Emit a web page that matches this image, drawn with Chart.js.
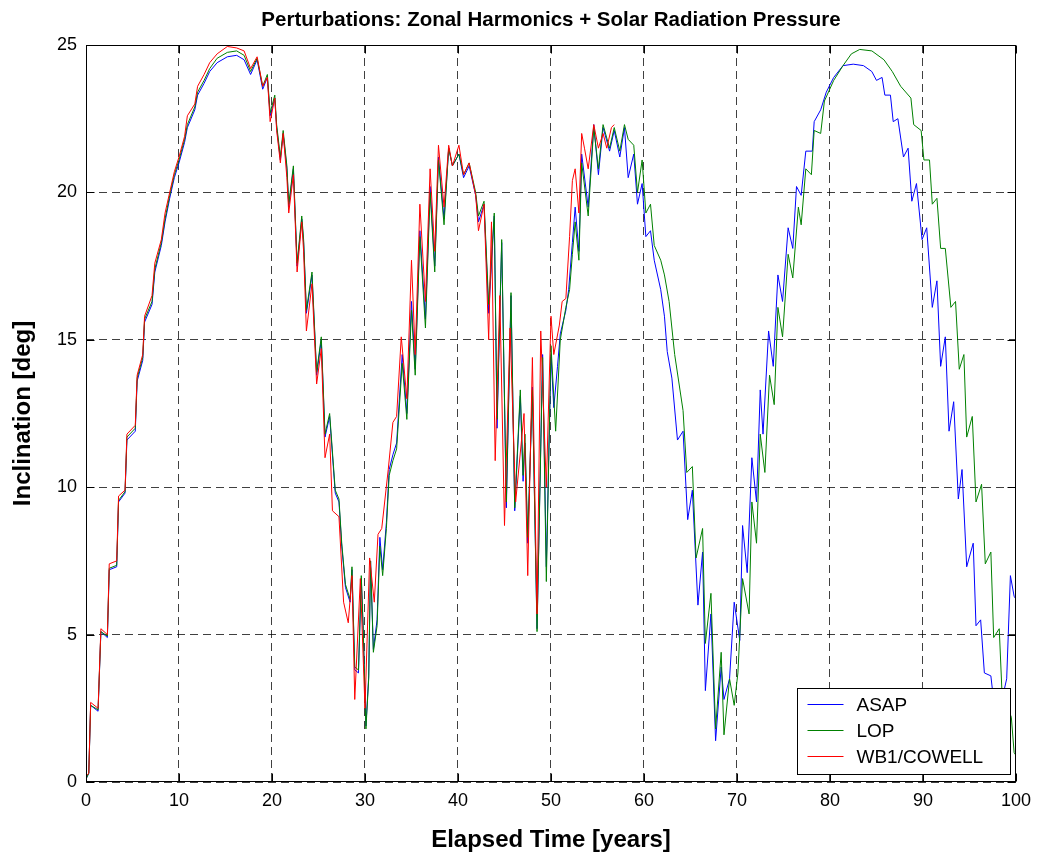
<!DOCTYPE html>
<html>
<head>
<meta charset="utf-8">
<title>Inclination perturbations</title>
<script src="https://cdn.jsdelivr.net/npm/chart.js@4.4.1/dist/chart.umd.min.js"></script>
<style>
  html, body { margin: 0; padding: 0; background: #fff; }
  #wrap { width: 1039px; height: 853px; }
</style>
</head>
<body>
<div id="wrap"><canvas id="chart" width="1039" height="853"></canvas></div>
<script>
// values: elapsed time [years] / inclination [deg]
const asapT = [0, 0.3, 0.5, 1.3, 1.6, 2.3, 2.5, 3.3, 3.5, 4.2, 4.4, 5.3, 5.5, 6.1, 6.3, 7.1, 7.4, 8.1, 8.5, 9.0,
  9.5, 10.0, 10.6, 10.9, 11.7, 12.0, 12.7, 13.3, 14.1, 15.2, 16.2, 17.0, 17.7, 18.4, 19.0, 19.5, 19.8, 20.3, 20.5, 20.9,
  21.2, 21.6, 21.8, 22.3, 22.7, 23.2, 23.4, 23.7, 24.3, 24.8, 25.3, 25.7, 26.2, 26.8, 27.2, 27.5, 27.9, 28.4, 28.6, 28.9,
  29.3, 29.6, 29.8, 30.1, 30.4, 30.6, 30.9, 31.3, 31.6, 31.9, 32.3, 32.6, 33.0, 33.4, 34.0, 34.5, 35.0, 35.4, 35.9, 36.5,
  37.0, 37.5, 37.9, 38.5, 39.0, 39.4, 40.1, 40.6, 41.2, 41.9, 42.2, 42.8, 43.3, 43.9, 44.2, 44.7, 45.2, 45.7, 46.1, 46.7,
  47.0, 47.2, 47.5, 48.0, 48.5, 49.1, 49.5, 50.0, 50.3, 50.7, 51.0, 51.6, 51.9, 52.3, 52.6, 53.0, 53.3, 54.0, 54.6, 55.1,
  55.6, 56.3, 56.8, 57.4, 57.9, 58.3, 58.9, 59.3, 59.8, 60.2, 60.7, 61.1, 61.8, 62.2, 62.5, 63.0, 63.6, 64.2, 64.7, 65.2,
  65.8, 66.3, 66.6, 67.2, 67.7, 68.3, 68.6, 69.2, 69.7, 70.3, 70.6, 71.1, 71.6, 72.1, 72.5, 72.8, 73.4, 73.9, 74.4, 74.9,
  75.5, 76.0, 76.4, 76.9, 77.4, 78.1, 78.3, 79.0, 79.6, 80.4, 81.4, 82.5, 83.6, 84.5, 85.0, 85.6, 85.9, 86.5, 86.8, 87.3,
  87.9, 88.4, 88.8, 89.3, 89.9, 90.4, 91.0, 91.5, 91.9, 92.4, 92.8, 93.3, 93.8, 94.2, 94.7, 95.4, 95.7, 96.2, 96.6, 97.3,
  97.8, 98.5, 99.0, 99.4, 99.8, 100];
const asapI = [0.1, 0.3, 2.6, 2.4, 5.1, 4.9, 7.2, 7.3, 9.5, 9.8, 11.6, 11.9, 13.6, 14.3, 15.6, 16.2, 17.3, 18.2, 19.0, 19.8,
  20.5, 21.0, 21.7, 22.2, 22.8, 23.3, 23.7, 24.1, 24.4, 24.6, 24.65, 24.5, 24.0, 24.5, 23.5, 23.9, 22.6, 23.2, 22.2, 21.1,
  22.0, 20.8, 19.5, 20.8, 17.5, 19.1, 18.3, 15.9, 17.2, 13.8, 15.0, 11.7, 12.4, 9.8, 9.5, 8.0, 6.6, 6.1, 7.2, 3.8,
  3.7, 6.9, 5.2, 1.9, 3.6, 7.5, 4.5, 5.5, 8.3, 7.2, 8.8, 10.6, 11.1, 11.5, 14.5, 12.5, 16.3, 14.0, 18.7, 15.7,
  20.2, 17.5, 21.2, 19.1, 21.5, 20.9, 21.3, 20.5, 20.9, 19.9, 19.0, 19.6, 15.9, 19.2, 12.0, 18.3, 9.3, 16.5, 9.2, 13.1,
  10.2, 11.5, 8.1, 13.4, 5.2, 14.5, 7.3, 14.5, 12.7, 14.1, 15.2, 16.0, 16.7, 18.3, 19.5, 18.0, 21.3, 19.5, 22.3, 20.6,
  22.2, 21.4, 22.1, 21.2, 22.2, 20.5, 21.3, 19.6, 20.3, 18.5, 18.7, 17.7, 16.7, 15.8, 14.6, 13.7, 11.6, 11.9, 8.9, 9.9,
  6.0, 7.8, 3.1, 5.7, 1.4, 3.9, 2.8, 3.5, 6.1, 4.8, 8.7, 7.1, 11.0, 9.5, 13.3, 11.8, 15.3, 14.1, 17.2, 16.3,
  18.8, 18.1, 20.2, 19.9, 21.4, 21.4, 22.4, 22.8, 23.4, 23.9, 24.3, 24.35, 24.3, 24.1, 23.8, 23.9, 23.3, 23.3, 22.4, 22.5,
  21.2, 21.5, 19.7, 20.3, 18.4, 18.8, 16.1, 17.0, 14.1, 15.1, 11.9, 12.9, 9.6, 10.6, 7.3, 8.1, 5.3, 5.5, 3.7, 3.6,
  2.2, 2.8, 3.5, 7.0, 6.3, 6.2];

const lopT = [0, 0.3, 0.5, 1.3, 1.6, 2.3, 2.5, 3.3, 3.5, 4.2, 4.4, 5.3, 5.5, 6.1, 6.3, 7.1, 7.4, 8.1, 8.5, 9.0,
  9.5, 10.0, 10.6, 10.9, 11.7, 12.0, 12.7, 13.3, 14.1, 15.2, 16.2, 17.0, 17.7, 18.4, 19.0, 19.5, 19.8, 20.3, 20.5, 20.9,
  21.2, 21.6, 21.8, 22.3, 22.7, 23.2, 23.4, 23.7, 24.3, 24.8, 25.3, 25.7, 26.2, 26.8, 27.2, 27.5, 27.9, 28.4, 28.6, 28.9,
  29.3, 29.6, 29.8, 30.1, 30.4, 30.6, 30.9, 31.3, 31.6, 31.9, 32.3, 32.6, 33.0, 33.4, 34.0, 34.5, 35.0, 35.4, 35.9, 36.5,
  37.0, 37.5, 37.9, 38.5, 39.0, 39.4, 40.1, 40.6, 41.2, 41.9, 42.2, 42.8, 43.3, 43.9, 44.2, 44.7, 45.2, 45.7, 46.1, 46.7,
  47.0, 47.2, 47.5, 48.0, 48.5, 49.1, 49.5, 50.0, 50.5, 51.0, 51.6, 52.0, 52.3, 52.6, 53.0, 53.3, 54.0, 54.6, 55.1, 55.6,
  56.3, 56.8, 57.4, 57.9, 58.3, 58.9, 59.3, 59.8, 60.2, 60.7, 61.1, 61.8, 62.2, 62.7, 63.3, 64.2, 64.6, 65.2, 65.6, 66.3,
  66.6, 67.2, 67.7, 68.3, 68.6, 69.2, 69.7, 70.1, 70.6, 71.3, 71.6, 72.1, 72.5, 73.0, 73.5, 74.0, 74.4, 74.9, 75.5, 76.0,
  76.6, 76.9, 77.4, 78.0, 78.3, 79.0, 79.4, 80.4, 81.4, 82.3, 83.2, 84.5, 85.8, 86.7, 87.6, 88.7, 89.0, 89.8, 90.1, 90.7,
  91.0, 91.5, 91.9, 92.4, 93.0, 93.5, 93.9, 94.4, 94.7, 95.3, 95.7, 96.3, 96.7, 97.3, 97.6, 98.2, 98.5, 99.0, 99.5, 99.8,
  100];
const lopI = [0.1, 0.3, 2.6, 2.45, 5.1, 4.95, 7.25, 7.35, 9.55, 9.85, 11.7, 12.0, 13.7, 14.4, 15.7, 16.3, 17.4, 18.3, 19.1, 19.9,
  20.6, 21.1, 21.8, 22.3, 22.9, 23.4, 23.8, 24.2, 24.55, 24.75, 24.8, 24.65, 24.1, 24.55, 23.6, 24.0, 22.7, 23.3, 22.3, 21.2,
  22.1, 20.9, 19.6, 20.9, 17.6, 19.2, 18.4, 16.0, 17.3, 13.9, 15.1, 11.8, 12.5, 9.9, 9.6, 8.1, 6.7, 6.2, 7.3, 3.9,
  3.8, 7.0, 5.3, 1.8, 3.5, 7.5, 4.4, 5.3, 8.0, 7.0, 8.6, 10.4, 10.9, 11.3, 14.2, 12.3, 16.0, 13.8, 18.5, 15.4,
  20.0, 17.3, 21.1, 18.9, 21.5, 20.9, 21.3, 20.6, 21.0, 20.0, 19.2, 19.7, 16.2, 19.3, 12.3, 18.4, 9.5, 16.6, 9.3, 13.3,
  10.4, 11.8, 8.3, 13.3, 5.1, 14.4, 6.8, 14.8, 11.9, 15.0, 16.1, 16.7, 17.9, 19.0, 17.7, 21.0, 19.2, 22.2, 20.8, 22.3,
  21.5, 22.2, 21.4, 22.3, 21.8, 21.6, 20.0, 21.1, 19.3, 19.6, 18.2, 17.7, 17.2, 16.3, 14.5, 12.6, 10.5, 10.7, 7.6, 8.6,
  4.7, 6.4, 1.8, 4.4, 1.6, 3.5, 2.6, 3.7, 6.9, 5.7, 9.5, 8.1, 11.8, 10.5, 13.8, 12.8, 16.1, 15.1, 17.9, 17.1,
  19.5, 18.9, 20.8, 20.6, 22.1, 22.0, 23.1, 23.8, 24.3, 24.7, 24.85, 24.8, 24.5, 24.1, 23.6, 23.2, 22.3, 22.1, 21.1, 21.1,
  19.6, 19.8, 18.1, 18.1, 16.1, 16.3, 14.0, 14.5, 11.7, 12.4, 9.5, 10.1, 7.4, 7.8, 4.9, 5.2, 3.0, 2.6, 2.2, 1.0,
  0.9];

const wbT = [0, 0.3, 0.5, 1.3, 1.6, 2.3, 2.5, 3.3, 3.5, 4.2, 4.4, 5.3, 5.5, 6.1, 6.3, 7.1, 7.4, 8.1, 8.5, 9.0,
  9.5, 10.0, 10.6, 10.9, 11.7, 12.0, 12.7, 13.3, 14.1, 15.2, 16.2, 17.0, 17.7, 18.4, 19.0, 19.5, 19.8, 20.3, 20.5, 20.9,
  21.2, 21.6, 21.8, 22.3, 22.7, 23.2, 23.4, 23.7, 24.3, 24.8, 25.3, 25.7, 26.2, 26.5, 27.2, 27.7, 28.2, 28.6, 28.9, 29.5,
  30.0, 30.5, 31.0, 31.4, 31.8, 32.5, 33.0, 33.4, 33.9, 34.5, 35.0, 35.4, 35.9, 36.5, 37.0, 37.5, 37.9, 38.5, 39.0, 39.4,
  40.1, 40.6, 41.2, 41.9, 42.2, 42.8, 43.3, 43.6, 44.0, 44.5, 45.0, 45.6, 46.2, 47.1, 47.5, 48.0, 48.5, 48.9, 49.5, 50.0,
  50.3, 50.9, 51.2, 51.6, 52.0, 52.3, 52.6, 53.0, 53.3, 53.6, 54.0, 54.6, 55.1, 55.6, 56.0, 56.5, 56.8];
const wbI = [0.2, 0.3, 2.7, 2.5, 5.2, 5.0, 7.4, 7.5, 9.7, 9.9, 11.8, 12.1, 13.8, 14.5, 15.8, 16.5, 17.6, 18.4, 19.3, 20.0,
  20.7, 21.2, 21.9, 22.6, 23.0, 23.6, 24.0, 24.4, 24.7, 24.95, 24.9, 24.8, 24.2, 24.6, 23.6, 23.9, 22.4, 23.2, 22.1, 21.0,
  22.0, 20.5, 19.3, 20.6, 17.3, 19.0, 18.0, 15.3, 16.9, 13.5, 14.7, 11.0, 11.8, 9.2, 9.0, 6.1, 5.4, 7.0, 2.8, 6.9,
  2.5, 7.6, 6.1, 8.4, 8.6, 10.6, 12.2, 12.4, 15.1, 13.0, 17.7, 14.5, 19.6, 16.3, 20.8, 18.0, 21.6, 19.5, 21.6, 20.9,
  21.6, 20.6, 21.0, 19.9, 18.7, 19.6, 15.0, 19.0, 10.9, 16.5, 8.7, 15.4, 9.5, 12.5, 7.0, 14.4, 5.7, 15.3, 10.0, 15.8,
  14.5, 15.5, 16.3, 16.4, 18.5, 20.4, 20.8, 19.3, 22.0, 21.5, 20.8, 22.3, 21.5, 22.0, 21.5, 22.2, 22.3];

const seriesNames = ['ASAP', 'LOP', 'WB1/COWELL'];
const seriesColors = ['#0000ff', '#008000', '#ff0000'];
const xTicks = [0, 10, 20, 30, 40, 50, 60, 70, 80, 90, 100];
const yTicks = [0, 5, 10, 15, 20, 25];

const FONT = '"Liberation Sans", Arial, Helvetica, sans-serif';

function pts(t, v) {
  return t.map((x, i) => ({ x: x, y: v[i] }));
}

// box, inward ticks and the legend, drawn on top like matlab does it
const matlabAxes = {
  id: 'matlabAxes',
  afterDatasetsDraw(chart) {
    const { ctx, chartArea: a, scales } = chart;
    const L = Math.round(a.left) + 0.5, R = Math.round(a.right) - 0.5;
    const T = Math.round(a.top) + 0.5, B = Math.round(a.bottom) - 0.5;
    ctx.save();
    ctx.strokeStyle = '#000';
    ctx.lineWidth = 1;
    ctx.setLineDash([]);
    ctx.strokeRect(L, T, R - L, B - T);
    ctx.beginPath();
    xTicks.forEach(v => {
      const px = Math.round(scales.x.getPixelForValue(v)) + 0.5;
      ctx.moveTo(px, B); ctx.lineTo(px, B - 8);
      ctx.moveTo(px, T); ctx.lineTo(px, T + 8);
    });
    yTicks.forEach(v => {
      const py = Math.round(scales.y.getPixelForValue(v)) + 0.5;
      ctx.moveTo(L, py); ctx.lineTo(L + 8, py);
      ctx.moveTo(R, py); ctx.lineTo(R - 8, py);
    });
    ctx.stroke();
    ctx.restore();
  },
  afterDraw(chart) {
    const { ctx, chartArea: a } = chart;
    const w = 213, h = 86;
    const bx = Math.round(a.right) - 6 - w + 0.5;
    const by = Math.round(a.bottom) - 8 - h + 0.5;
    ctx.save();
    ctx.fillStyle = '#fff';
    ctx.fillRect(bx, by, w, h);
    ctx.strokeStyle = '#000';
    ctx.lineWidth = 1;
    ctx.strokeRect(bx, by, w, h);
    ctx.font = '19px ' + FONT;
    ctx.textBaseline = 'middle';
    ctx.fillStyle = '#000';
    seriesNames.forEach((name, i) => {
      const y = Math.round(by + 15 + i * 26) + 0.5;
      ctx.strokeStyle = seriesColors[i];
      ctx.beginPath();
      ctx.moveTo(bx + 10, y);
      ctx.lineTo(bx + 46, y);
      ctx.stroke();
      ctx.fillText(name, bx + 59, y + 1);
    });
    ctx.restore();
  }
};

const series = [[asapT, asapI], [lopT, lopI], [wbT, wbI]];

new Chart(document.getElementById('chart'), {
  type: 'scatter',
  data: {
    datasets: series.map((s, i) => ({
      label: seriesNames[i],
      data: pts(s[0], s[1]),
      showLine: true,
      borderColor: seriesColors[i],
      backgroundColor: seriesColors[i],
      borderWidth: 1,
      pointRadius: 0,
      tension: 0,
      order: 2 - i
    }))
  },
  options: {
    responsive: false,
    animation: false,
    events: [],
    layout: { padding: { left: 0, right: 18, top: 0, bottom: 0 } },
    plugins: {
      legend: { display: false },
      tooltip: { enabled: false },
      title: {
        display: true,
        fullSize: false,
        text: 'Perturbations: Zonal Harmonics + Solar Radiation Pressure',
        color: '#000',
        font: { family: FONT, size: 20.5, weight: 'bold', lineHeight: 1.2 },
        padding: { top: 8, bottom: 12.4 }
      }
    },
    scales: {
      x: {
        type: 'linear',
        min: 0,
        max: 100,
        afterFit: s => { s.height = 71; },
        afterBuildTicks: s => { s.ticks = xTicks.map(v => ({ value: v })); },
        ticks: { color: '#000', font: { family: FONT, size: 18 }, padding: 8, maxRotation: 0 },
        grid: { color: 'rgba(0,0,0,0.75)', lineWidth: 1, drawTicks: false },
        border: { display: false, dash: [8, 5] },
        title: {
          display: true,
          text: 'Elapsed Time [years]',
          color: '#000',
          font: { family: FONT, size: 24, weight: 'bold', lineHeight: 1.05 },
          padding: { top: 0, bottom: 0 }
        }
      },
      y: {
        min: 0,
        max: 25,
        afterFit: s => { s.width = 86; },
        afterBuildTicks: s => { s.ticks = yTicks.map(v => ({ value: v })); },
        ticks: { color: '#000', font: { family: FONT, size: 18 }, padding: 9 },
        grid: { color: 'rgba(0,0,0,0.75)', lineWidth: 1, drawTicks: false },
        border: { display: false, dash: [8, 5] },
        title: {
          display: true,
          text: 'Inclination [deg]',
          color: '#000',
          font: { family: FONT, size: 24, weight: 'bold', lineHeight: 1.2 },
          padding: { top: 9, bottom: 0 }
        }
      }
    }
  },
  plugins: [matlabAxes]
});
</script>
</body>
</html>
